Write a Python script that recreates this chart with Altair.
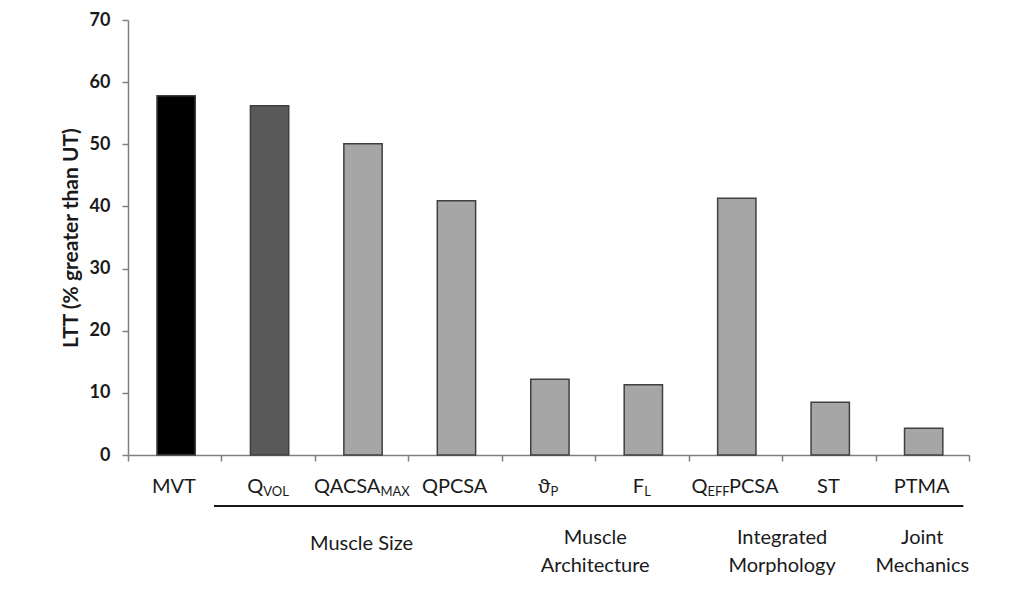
import altair as alt
import pandas as pd

# ---- data ----
categories = ["MVT", "QVOL", "QACSAMAX", "QPCSA", "thetaP", "FL", "QEFFPCSA", "ST", "PTMA"]
values = [57.8, 56.2, 50.1, 40.9, 12.2, 11.3, 41.3, 8.5, 4.3]
label_main = ["MVT", "Q", "QACSA", "QPCSA", "\u03d1", "F", "Q", "ST", "PTMA"]
label_sub = ["", "VOL", "MAX", "", "P", "L", "EFF", "", ""]
label_tail = ["", "", "", "", "", "", "PCSA", "", ""]
bar_colors = ["#000000", "#595959", "#a6a6a6", "#a6a6a6", "#a6a6a6",
              "#a6a6a6", "#a6a6a6", "#a6a6a6", "#a6a6a6"]
groups = ["Muscle Size", "Muscle\nArchitecture", "Integrated\nMorphology", "Joint\nMechanics"]
group_first = [1, 4, 6, 8]
group_last = [3, 5, 7, 8]
y_ticks = [0, 10, 20, 30, 40, 50, 60, 70]
y_title = "LTT (% greater than UT)"

# ---- layout ----
TOP = 12
W, H = 841, 435
N = len(categories)
STEP = W / N
FONT = "Lato"
MAIN_SIZE, SUB_SIZE = 20, 13

CHAR_W = {"A": .68, "C": .665, "E": .56, "F": .545, "L": .495, "M": .88, "O": .76,
          "P": .605, "Q": .76, "S": .525, "T": .565, "V": .67, "X": .64, "\u03d1": .6}


def text_w(s, size):
    return sum(CHAR_W.get(c, .6) for c in s) * size


bars = pd.DataFrame({"idx": list(range(N)), "cat": categories, "value": values})

# label segments
rows = []
for i in range(N):
    m, s, t = label_main[i], label_sub[i], label_tail[i]
    wm, ws, wt = text_w(m, MAIN_SIZE), text_w(s, SUB_SIZE), text_w(t, MAIN_SIZE)
    total = wm + ws + wt
    center = (i + 0.5) * STEP
    anchor = center - total / 2 + wm
    rows.append({"x": anchor / STEP, "text": m, "kind": "main"})
    if s:
        rows.append({"x": anchor / STEP, "text": s, "kind": "sub"})
    if t:
        rows.append({"x": (anchor + ws) / STEP, "text": t, "kind": "tail"})
labels = pd.DataFrame(rows)

grp = pd.DataFrame({
    "group": groups,
    "multi": ["\n" in g for g in groups],
    "x0": [f - 0.08 for f in group_first],
    "x1": [l + 1 - 0.06 for l in group_last],
    "xc": [(f + l + 1) / 2 for f, l in zip(group_first, group_last)],
})

xscale = alt.Scale(domain=[0, N], nice=False, zero=False)
yscale = alt.Scale(domain=[0, 70], nice=False)

bar_layer = alt.Chart(bars).transform_calculate(
    x0="datum.idx + 0.31", x1="datum.idx + 0.72"
).mark_bar(stroke="#404040", strokeWidth=1.5).encode(
    x=alt.X("x0:Q", scale=xscale,
            axis=alt.Axis(values=list(range(N + 1)), labels=False, ticks=True,
                          tickSize=6, tickColor="#808080", domainColor="#808080",
                          domainWidth=1.5, tickWidth=1.5, grid=False, title=None)),
    x2="x1:Q",
    y=alt.Y("value:Q", scale=yscale,
            axis=alt.Axis(values=y_ticks, title=y_title, grid=False,
                          labelFont=FONT, labelFontSize=18, labelFontWeight="bold",
                          labelColor="#1a1a1a", labelPadding=12,
                          tickSize=6, tickColor="#808080", tickWidth=1.5,
                          domainColor="#808080", domainWidth=1.5,
                          titleFont=FONT, titleFontSize=21, titleFontWeight="bold",
                          titleColor="#1a1a1a", titlePadding=8)),
    y2=alt.datum(0),
    color=alt.Color("cat:N", scale=alt.Scale(domain=categories, range=bar_colors), legend=None),
)

# pixel rows below the plot (relative to plot top)
BASE = H + 38


def seg_layer(kind, align, size, ybase):
    return alt.Chart(labels).transform_filter(
        alt.datum.kind == kind
    ).mark_text(align=align, baseline="alphabetic", font=FONT, fontSize=size,
                color="#1a1a1a").encode(
        x=alt.X("x:Q", scale=xscale),
        y=alt.value(ybase),
        text="text:N",
    )


main_layer = seg_layer("main", "right", MAIN_SIZE, BASE)
sub_layer = seg_layer("sub", "left", SUB_SIZE, BASE + 3)
tail_layer = seg_layer("tail", "left", MAIN_SIZE, BASE)

rule_layer = alt.Chart(grp).mark_rule(color="#1a1a1a", strokeWidth=2).encode(
    x=alt.X("x0:Q", scale=xscale), x2="x1:Q", y=alt.value(BASE + 13)
)


def group_layer(multi, ypix):
    return alt.Chart(grp).transform_filter(
        alt.datum.multi == multi
    ).mark_text(
        align="center", baseline="middle", font=FONT, fontSize=20, lineBreak="\n",
        lineHeight=28, color="#1a1a1a"
    ).encode(
        x=alt.X("xc:Q", scale=xscale), y=alt.value(ypix), text="group:N"
    )


chart = alt.layer(
    bar_layer, main_layer, sub_layer, tail_layer, rule_layer,
    group_layer(False, BASE + 51), group_layer(True, BASE + 45)
).properties(
    width=W, height=H,
    autosize=alt.AutoSizeParams(type="none"),
    padding={"left": 120, "top": TOP, "right": 40, "bottom": 130},
    background="white",
).configure_view(stroke=None)

chart.save("out.html", embed_options={"renderer": "svg", "actions": False})
